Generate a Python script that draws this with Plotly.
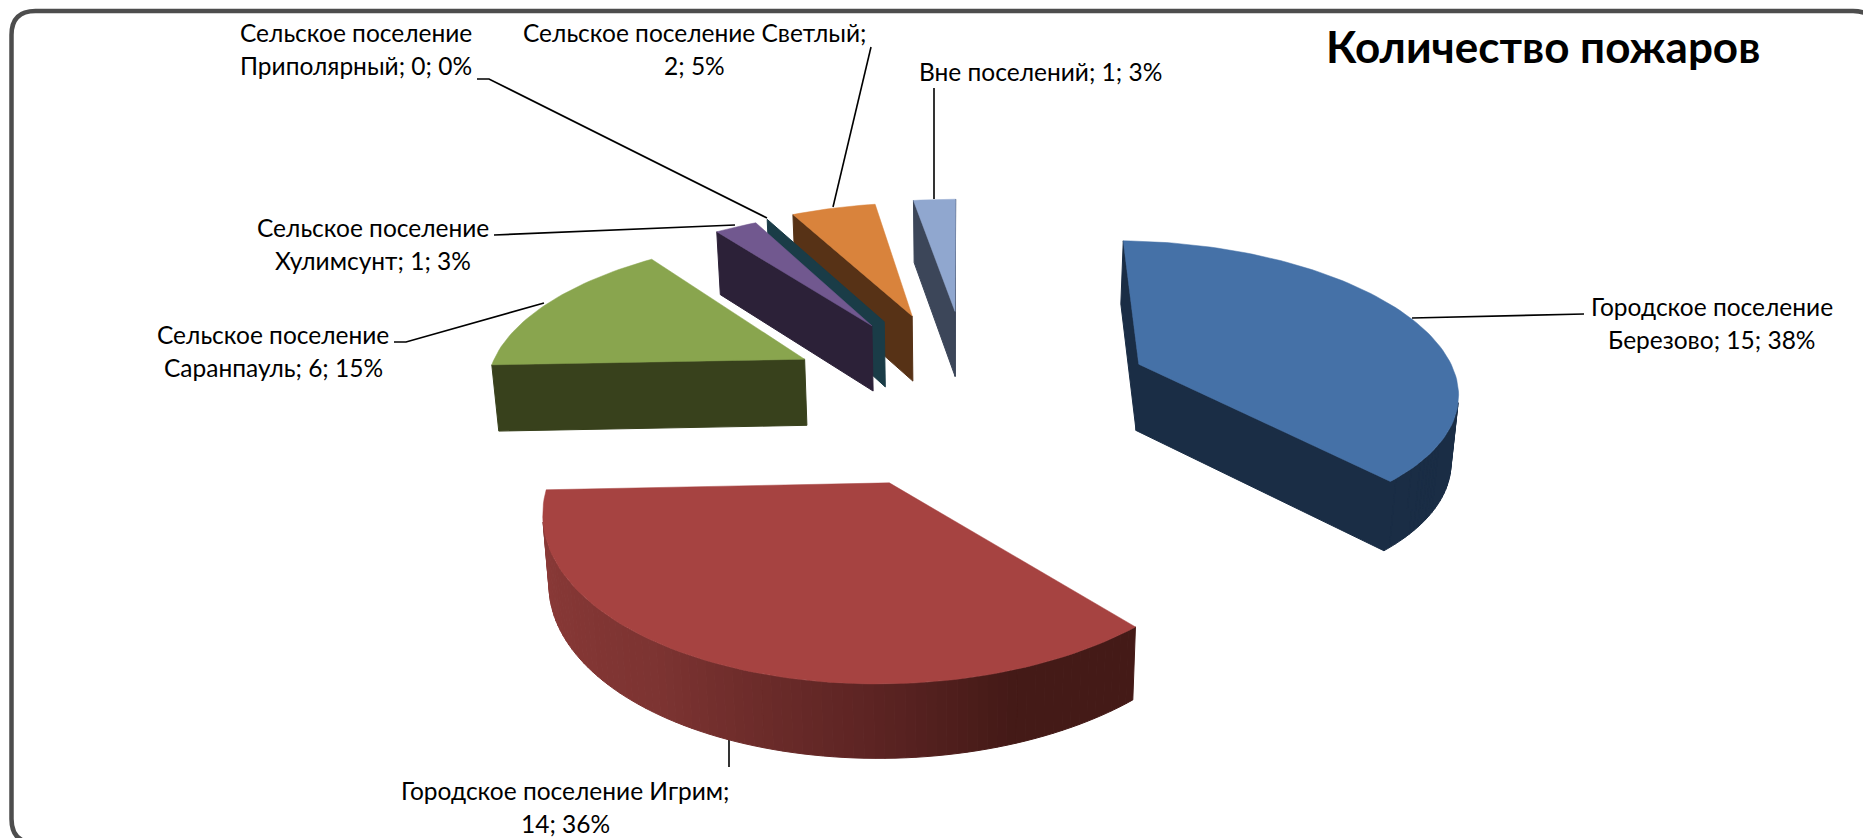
import math
import plotly.graph_objects as go

# ---------- data ----------
CATEGORIES = ["Городское поселение Березово", "Городское поселение Игрим",
              "Сельское поселение Саранпауль", "Сельское поселение Хулимсунт",
              "Сельское поселение Приполярный", "Сельское поселение Светлый",
              "Вне поселений"]
VALUES = [15, 14, 6, 1, 0, 2, 1]
TITLE = "Количество пожаров"

# ---------- style ----------
TOP_COLORS = ["#4571a7", "#a64341", "#89a54e", "#71588f", "#1a3c47", "#d9833c", "#90a7cf"]
WALL_COLORS = ["#1a2d45", "#4a1c19", "#38411c", "#2c2138", "#1a3c47", "#573216", "#3c4659"]
# rim shading of the red slice: (angle in degrees, colour)
RED_RIM = [(267.7, (142, 59, 57)), (215, (125, 52, 50)), (180, (92, 36, 35)),
           (160, (68, 26, 23)), (138.5, (68, 26, 23))]
LABEL_BREAK = ["Городское поселение", "Городское поселение Игрим;", "Сельское поселение",
               "Сельское поселение", "Сельское поселение", "Сельское поселение Светлый;", None]
LABEL_POS = [(1712, 306), (565, 790), (273, 334), (373, 227), (356, 32), (694, 32), (1040, 71)]
LABEL_LINE_GAP = 33
LEADERS = [[(1412, 318), (1584, 314)],
           [(729, 730), (729, 767)],
           [(394, 342), (406, 342), (544, 303)],
           [(494, 235), (735, 225)],
           [(477, 79), (489, 79), (767, 218)],
           [(871, 47), (833, 207)],
           [(934, 88), (934, 199)]]
FONT = "Lato"
LABEL_SIZE = 24.5
TITLE_SIZE = 44
INK = "#000000"

# ---------- camera / pie geometry ----------
CX, YV = 956.0, -650.0      # vanishing point
F, A = 2260.0, 7353.0       # lateral and depth scale
CU, CV = 0.03, 7.03         # pie centre on the ground plane
EXPLODE = 0.58
WALL_A, WALL_B = 40.0, 190.0
LOW_X = 0.985
DRAW_ORDER = [6, 5, 4, 3, 2, 0, 1]
# per-slice fine placement on the page: dx, dy, radius factor, start-angle twist
PLACE = [(4, -2, 1.0, 1.3), (2, 1, 0.98, 0), (2, -1, 1.0, 0), (0, -2, 1.0, 0),
         (0, -3, 1.0, 0), (2, -4, 1.0, 0), (4, -5, 1.0, 0)]


def project(u, v, low=False):
    dv = CV + v
    x = CX + F * (CU + u) / dv
    y = YV + A / dv
    if low:
        y += WALL_A + WALL_B / dv
        x = CX + (x - CX) * LOW_X
    return x, y


def lerp_rim(angle):
    for (a0, c0), (a1, c1) in zip(RED_RIM, RED_RIM[1:]):
        if a1 <= angle <= a0:
            t = (a0 - angle) / (a0 - a1)
            return "rgb(%d,%d,%d)" % tuple(c0[k] + (c1[k] - c0[k]) * t for k in range(3))
    return "rgb(%d,%d,%d)" % RED_RIM[-1][1]


def poly_trace(pts, color, lw=1.0):
    xs, ys = [], []
    for poly in pts:
        xs += [p[0] for p in poly] + [poly[0][0], None]
        ys += [p[1] for p in poly] + [poly[0][1], None]
    return go.Scatter(x=xs, y=ys, mode="lines", fill="toself", fillcolor=color,
                      line=dict(color=color, width=lw), hoverinfo="skip", showlegend=False)


def shoelace(q):
    return sum(q[i][0] * q[(i + 1) % len(q)][1] - q[(i + 1) % len(q)][0] * q[i][1] for i in range(len(q)))


total = sum(VALUES)
angles = []
acc = 0
for v in VALUES:
    angles.append((acc / total * 360, (acc + v) / total * 360))
    acc += v

fig = go.Figure()

# leader lines lie under the slices
for path in LEADERS:
    fig.add_trace(go.Scatter(x=[p[0] for p in path], y=[p[1] for p in path], mode="lines",
                             line=dict(color=INK, width=1.6), hoverinfo="skip", showlegend=False))

for i in DRAW_ORDER:
    a0, a1 = angles[i]
    dx, dy, rad, twist = PLACE[i]
    mid = math.radians((a0 + a1) / 2)
    ou, ov = EXPLODE * math.sin(mid), EXPLODE * math.cos(mid)
    a0 += twist
    n = max(1, int((a1 - a0) / 1.5))
    rim = [a0 + (a1 - a0) * k / n for k in range(n + 1)]
    outline = [(ou, ov, None)]
    outline += [(ou + rad * math.sin(math.radians(a)), ov + rad * math.cos(math.radians(a)), a) for a in rim]
    outline.append((ou, ov, None))

    def pr(p, low=False):
        x, y = project(p[0], p[1], low)
        return x + dx, y + dy

    flat, shaded = [], []
    for p, q in zip(outline, outline[1:]):
        quad = [pr(p), pr(q), pr(q, True), pr(p, True)]
        if shoelace(quad) >= 0:
            continue
        if i == 1 and p[2] is not None and q[2] is not None:
            shaded.append((quad, lerp_rim((p[2] + q[2]) / 2)))
        else:
            flat.append(quad)
    if flat:
        fig.add_trace(poly_trace(flat, WALL_COLORS[i]))
    for quad, col in shaded:
        fig.add_trace(poly_trace([quad], col))
    if VALUES[i] > 0:
        fig.add_trace(poly_trace([[pr(p) for p in outline[:-1]]], TOP_COLORS[i], 0.5))

annotations = []
for name, v, brk, (lx, ly) in zip(CATEGORIES, VALUES, LABEL_BREAK, LABEL_POS):
    full = f"{name}; {v}; {round(v / total * 100)}%"
    lines = [full] if brk is None else [brk, full[len(brk):].strip()]
    for k, line in enumerate(lines):
        annotations.append(dict(x=lx, y=ly + k * LABEL_LINE_GAP, xref="x", yref="y", text=line,
                                showarrow=False, xanchor="center", yanchor="middle",
                                font=dict(family=FONT, size=LABEL_SIZE, color=INK)))
annotations.append(dict(x=1543, y=46, xref="x", yref="y", text=f"<b>{TITLE}</b>", showarrow=False,
                        xanchor="center", yanchor="middle",
                        font=dict(family=FONT, size=TITLE_SIZE, color=INK)))

frame = ("M 11.5 35 Q 11.5 11 35.5 11 L 1853 11 Q 1877 11 1877 35 "
         "L 1877 819 Q 1877 843 1853 843 L 35.5 843 Q 11.5 843 11.5 819 Z")
fig.update_layout(
    width=1863, height=838, margin=dict(l=0, r=0, t=0, b=0),
    paper_bgcolor="white", plot_bgcolor="white", showlegend=False,
    xaxis=dict(range=[0, 1863], visible=False, fixedrange=True),
    yaxis=dict(range=[838, 0], visible=False, fixedrange=True),
    annotations=annotations,
    shapes=[dict(type="path", path=frame, xref="x", yref="y",
                 line=dict(color="#4d4d4d", width=4.5), layer="above")],
)
fig.write_html("out.html", config={"displayModeBar": False},
               post_script="document.body.style.margin='0';document.body.style.overflow='hidden';")
